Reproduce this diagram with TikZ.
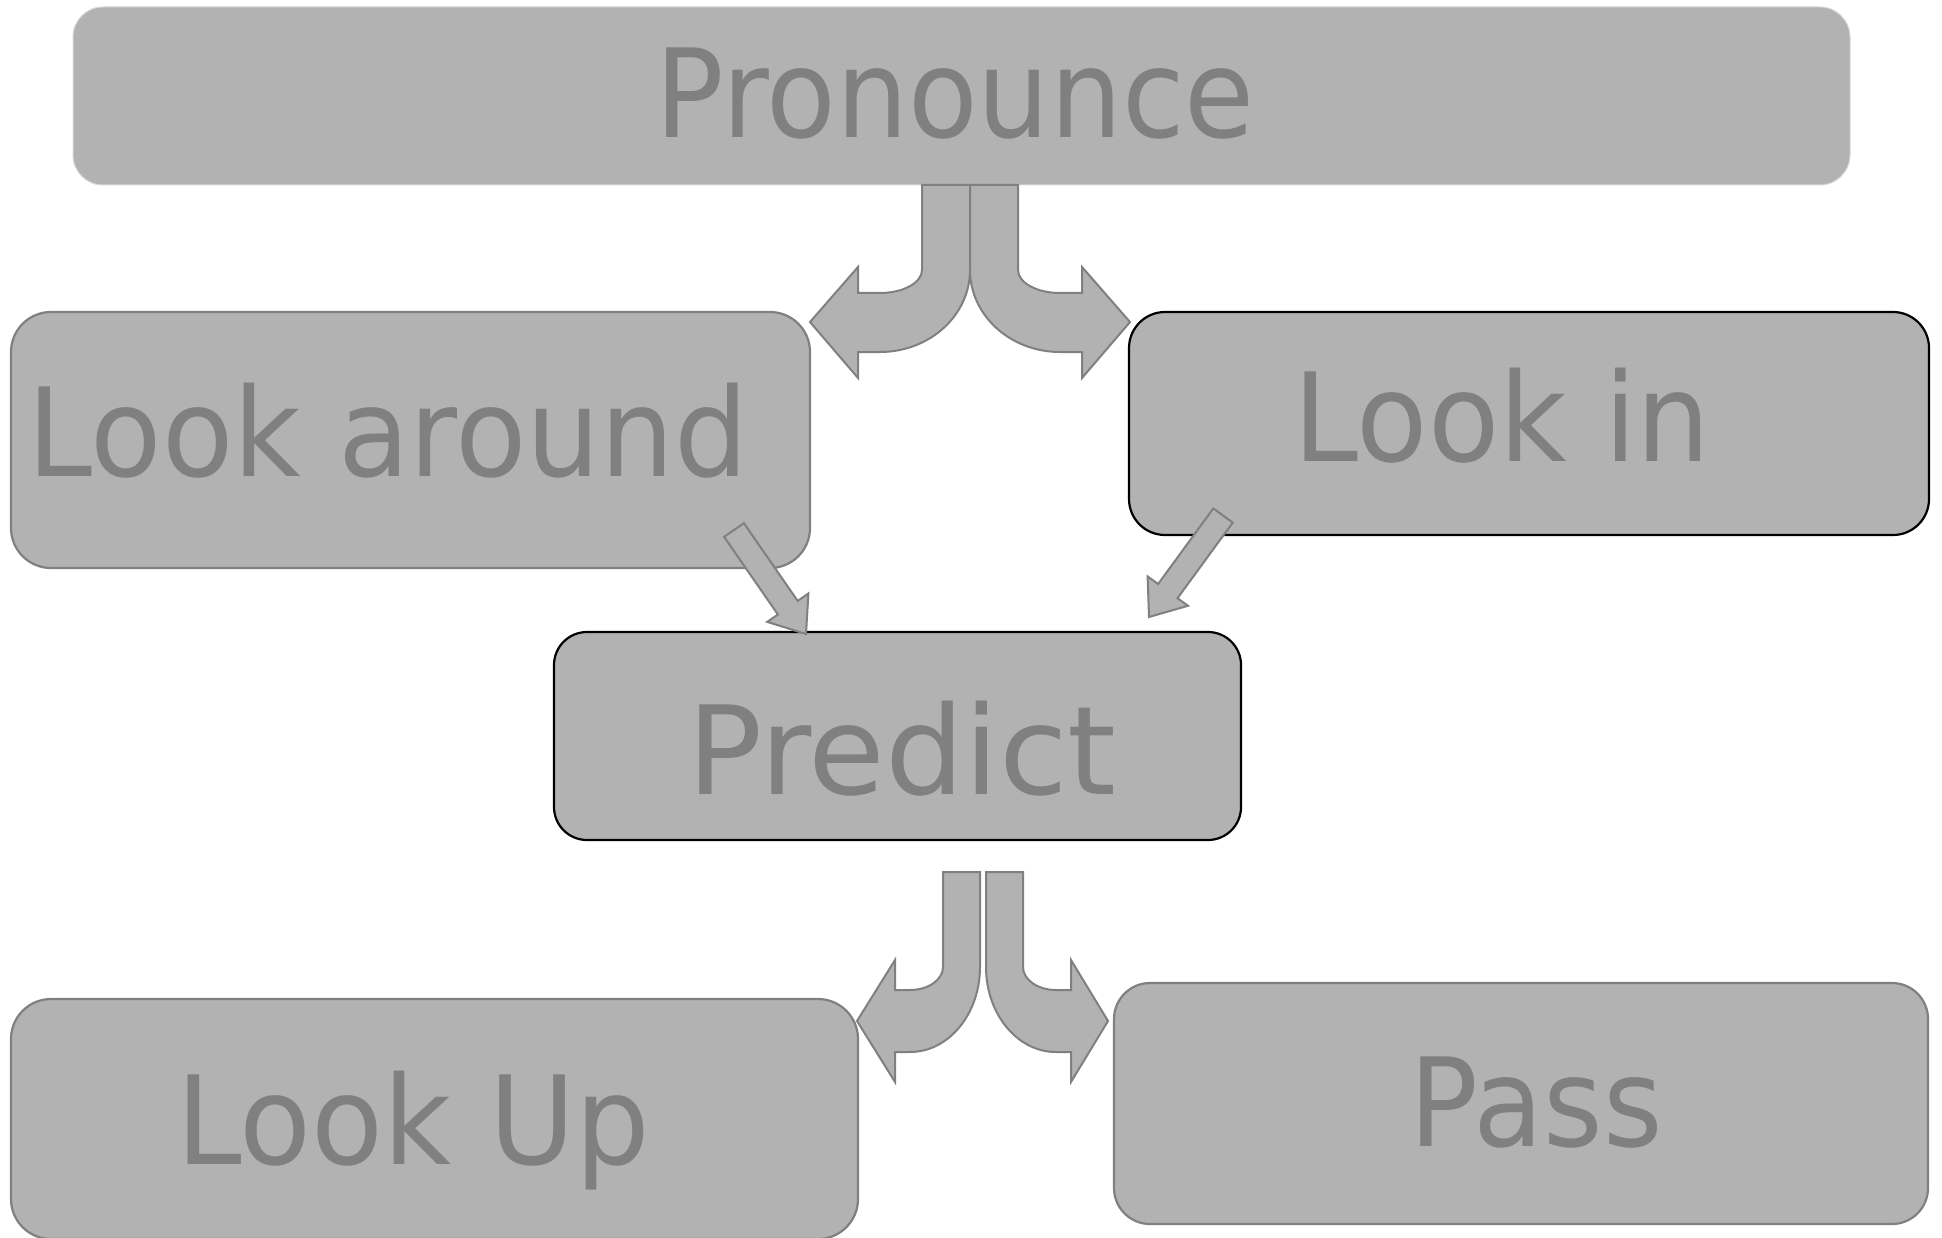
\documentclass[tikz,border=0pt]{standalone}
\usepackage{fontspec}
\setmainfont{DejaVu Sans}[FakeStretch=0.93]
\definecolor{boxgray}{RGB}{178,178,178}
\definecolor{edgegray}{RGB}{128,128,128}
\definecolor{labelgray}{RGB}{128,128,128}
\definecolor{faintgray}{RGB}{215,215,215}
% horizontally stretched label text
\newcommand{\widetext}[2]{\scalebox{#1}[1]{#2}}
\begin{document}
\begin{tikzpicture}[x=1pt,y=-1pt,
  box/.style={draw=#1, fill=boxgray, line width=2.2pt, rounded corners=36pt,
    anchor=north west, inner sep=0pt, outer sep=0pt},
  lbl/.style={anchor=base, text=labelgray, inner sep=0pt,
    font=\fontsize{123}{130}\selectfont},
  blockarrow/.style={fill=boxgray, draw=edgegray, line width=2pt, line join=miter}]
\useasboundingbox (0,0) rectangle (1942,1238);

% boxes
\node[box=faintgray, line width=1pt, rounded corners=30pt,
      minimum width=1777pt, minimum height=178pt] (pron) at (73,7) {};
\node[box=edgegray, rounded corners=40pt,
      minimum width=799pt, minimum height=256pt] (around) at (11,312) {};
\node[box=black, minimum width=800pt, minimum height=223pt] (lookin) at (1129,312) {};
\node[box=black, rounded corners=33pt,
      minimum width=687pt, minimum height=208pt] (predict) at (554,632) {};
\node[box=edgegray, rounded corners=40pt,
      minimum width=847pt, minimum height=240pt] (lookup) at (11,999) {};
\node[box=edgegray, minimum width=814pt, minimum height=241pt] (pass) at (1114,983) {};

% labels
\node[lbl] (pronT) at (955,138) {\widetext{0.995}{Pronounce}};
\node[lbl] (aroundT) at (388,476) {\widetext{1.02}{Look around}};
\node[lbl] (lookinT) at (1502,461) {\widetext{1.02}{Look in}};
\node[lbl] (predictT) at (902,794) {\widetext{1.09}{Predict}};
\node[lbl] (lookupT) at (413,1164) {\widetext{1.028}{Look Up}};
\node[lbl] (passT) at (1536,1146) {\widetext{1.0}{Pass}};

% bent arrows below Pronounce
\draw[blockarrow] (922,185) -- (970,185) -- (970,270)
  arc[start angle=0,end angle=90,x radius=90,y radius=82]
  -- (858,352) -- (858,378) -- (810,322) -- (858,267) -- (858,293) -- (880,293)
  arc[start angle=90,end angle=0,x radius=42,y radius=23] -- cycle;
\draw[blockarrow] (1018,185) -- (970,185) -- (970,270)
  arc[start angle=180,end angle=90,x radius=90,y radius=82]
  -- (1082,352) -- (1082,378) -- (1130,322) -- (1082,267) -- (1082,293) -- (1060,293)
  arc[start angle=90,end angle=180,x radius=42,y radius=23] -- cycle;

% diagonal arrows into Predict
\draw[blockarrow] (724.1,536.8) -- (777.9,614.5) -- (767.2,621.9) -- (806,634)
  -- (808.4,593.5) -- (797.7,600.9) -- (743.9,523.2) -- cycle;
\draw[blockarrow] (1213.3,508.4) -- (1158.1,584) -- (1147.6,576.4) -- (1149,617)
  -- (1188,605.8) -- (1177.5,598.2) -- (1232.7,522.6) -- cycle;

% bent arrows below Predict
\draw[blockarrow] (943,872) -- (980,872) -- (980,967)
  arc[start angle=0,end angle=90,x radius=70,y radius=85]
  -- (895,1052) -- (895,1082) -- (857,1021) -- (895,960) -- (895,990) -- (910,990)
  arc[start angle=90,end angle=0,x radius=33,y radius=23] -- cycle;
\draw[blockarrow] (1023,872) -- (986,872) -- (986,967)
  arc[start angle=180,end angle=90,x radius=70,y radius=85]
  -- (1071,1052) -- (1071,1082) -- (1108,1021) -- (1071,960) -- (1071,990) -- (1056,990)
  arc[start angle=90,end angle=180,x radius=33,y radius=23] -- cycle;
\end{tikzpicture}
\end{document}
